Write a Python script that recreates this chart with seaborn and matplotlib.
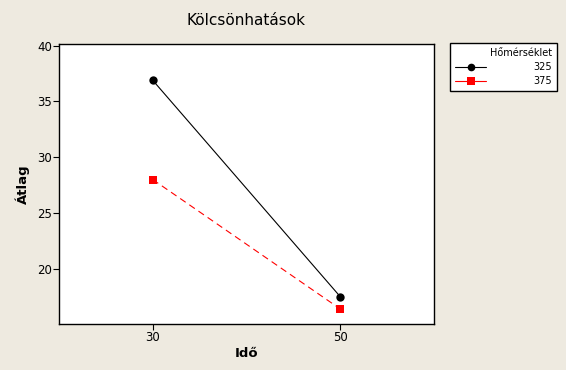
import matplotlib
matplotlib.use("Agg")
import matplotlib.pyplot as plt
import pandas as pd
import seaborn as sns
from matplotlib.lines import Line2D

# Interaction plot data
ido = [30, 50, 30, 50]
homerseklet = [325, 325, 375, 375]
atlag = [36.9, 17.5, 28.0, 16.4]
y_ticks = [20, 25, 30, 35, 40]
x_ticks = [30, 50]

df = pd.DataFrame({"Idő": ido, "Hőmérséklet": homerseklet, "Átlag": atlag})

bg = "#EEEAE0"
sns.set_style("white")
plt.rcParams["font.family"] = ["DejaVu Sans"]
plt.rcParams["text.color"] = "black"
plt.rcParams["axes.labelcolor"] = "black"
plt.rcParams["xtick.color"] = "black"
plt.rcParams["ytick.color"] = "black"

fig = plt.figure(figsize=(5.66, 3.70), dpi=100, facecolor=bg)
ax = fig.add_axes([0.1042, 0.1243, 0.6626, 0.7567])

sns.lineplot(data=df, x="Idő", y="Átlag", hue="Hőmérséklet", style="Hőmérséklet",
             palette={325: "black", 375: "red"},
             markers={325: "o", 375: "s"},
             dashes={325: "", 375: (6, 4)},
             markersize=6, linewidth=0.8, markeredgewidth=0,
             ax=ax, legend=False)

ax.set_xlim(20, 60)
ax.set_ylim(15.05, 40.15)
ax.set_xticks(x_ticks)
ax.set_yticks(y_ticks)
ax.tick_params(direction="out", length=4, width=0.8, color="black",
               labelsize=8.5, pad=1, bottom=True, left=True)
for s in ax.spines.values():
    s.set_color("black")
    s.set_linewidth(1)

ax.set_title("Kölcsönhatások", fontsize=11, pad=14)
ax.set_xlabel("Idő", fontsize=9.5, fontweight="bold", labelpad=2)
ax.set_ylabel("Átlag", fontsize=9.5, fontweight="bold", labelpad=5)

# legend box like Minitab
handles = [Line2D([], [], color="black", marker="o", markersize=5.5, lw=0.8, markeredgewidth=0),
           Line2D([], [], color="red", marker="s", markersize=5.5, lw=0.8, markeredgewidth=0)]
leg = fig.legend(handles, [str(v) for v in sorted(set(homerseklet))],
                 title="Hőmérséklet", loc="upper left",
                 bbox_to_anchor=(450 / 566, 1 - 43 / 370), borderaxespad=0,
                 fontsize=7, title_fontsize=7, frameon=True, fancybox=False,
                 framealpha=1, handlelength=3.2, handletextpad=4.8, borderpad=0.55,
                 labelspacing=0.4, alignment="right")
leg.get_frame().set_edgecolor("black")
leg.get_frame().set_linewidth(1)
leg.get_frame().set_facecolor("white")

fig.savefig("out.png", dpi=100, facecolor=bg)
